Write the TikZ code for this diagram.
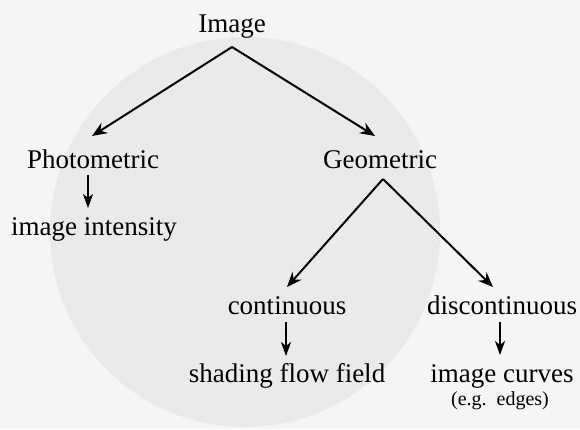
\documentclass[tikz,border=0pt]{standalone}
\usepackage{fontspec}
\setmainfont{Liberation Serif}
\usepackage{tikz}
\usetikzlibrary{
  arrows.meta,
  positioning
}
\usepackage{xcolor}
\definecolor{paper}{RGB}{245,245,245}
\definecolor{blob}{RGB}{234,234,234}

\begin{document}
\begin{tikzpicture}[x=1pt, y=-1pt,
  lbl/.style={inner sep=0pt, anchor=base, font=\fontsize{27}{32}\selectfont},
  note/.style={inner sep=0pt, anchor=base, font=\fontsize{20}{24}\selectfont},
  arr/.style={-{Stealth[length=15pt, width=12pt, inset=5pt]}, line width=2pt},
  down/.style={-{Stealth[length=14pt, width=10pt, inset=4pt]}, line width=2pt}
]
  % Page and faint background
  \fill[paper] (0,0) rectangle (580,429);
  \fill[blob] (245,232) circle (195);
  \useasboundingbox (0,0) rectangle (580,429);

  % Tree labels
  \node[lbl] (img)   at (232,32)  {Image};
  \node[lbl] (photo) at (93,168)  {Photometric};
  \node[lbl] (geo)   at (380,168) {Geometric};
  \node[lbl] (inten) at (94,235)  {image intensity};
  \node[lbl] (cont)  at (287,314) {continuous};
  \node[lbl] (disc)  at (502,314) {discontinuous};
  \node[lbl] (shad)  at (287,382) {shading flow field};
  \node[lbl] (curv)  at (502,382) {image curves};
  \node[note] (eg)   at (500,405) {(e.g.~~edges)};

  % Branching arrows
  \draw[arr] ([yshift=-15pt]img.base) -- ([xshift=-1pt, yshift=32pt]photo.base);
  \draw[arr] ([yshift=-15pt]img.base) -- ([xshift=-5pt, yshift=32pt]geo.base);
  \draw[arr] ([xshift=3pt, yshift=-11pt]geo.base) -- ([yshift=27pt]cont.base);
  \draw[arr] ([xshift=3pt, yshift=-11pt]geo.base) -- ([xshift=-9pt, yshift=27pt]disc.base);

  % Short arrows
  \draw[down] ([xshift=-5pt, yshift=-7pt]photo.base) -- ([xshift=-6pt, yshift=27pt]inten.base);
  \draw[down] ([xshift=-1pt, yshift=-8pt]cont.base) -- ([xshift=-1pt, yshift=26pt]shad.base);
  \draw[down] ([xshift=-2pt, yshift=-8pt]disc.base) -- ([xshift=-2pt, yshift=27pt]curv.base);
\end{tikzpicture}
\end{document}
